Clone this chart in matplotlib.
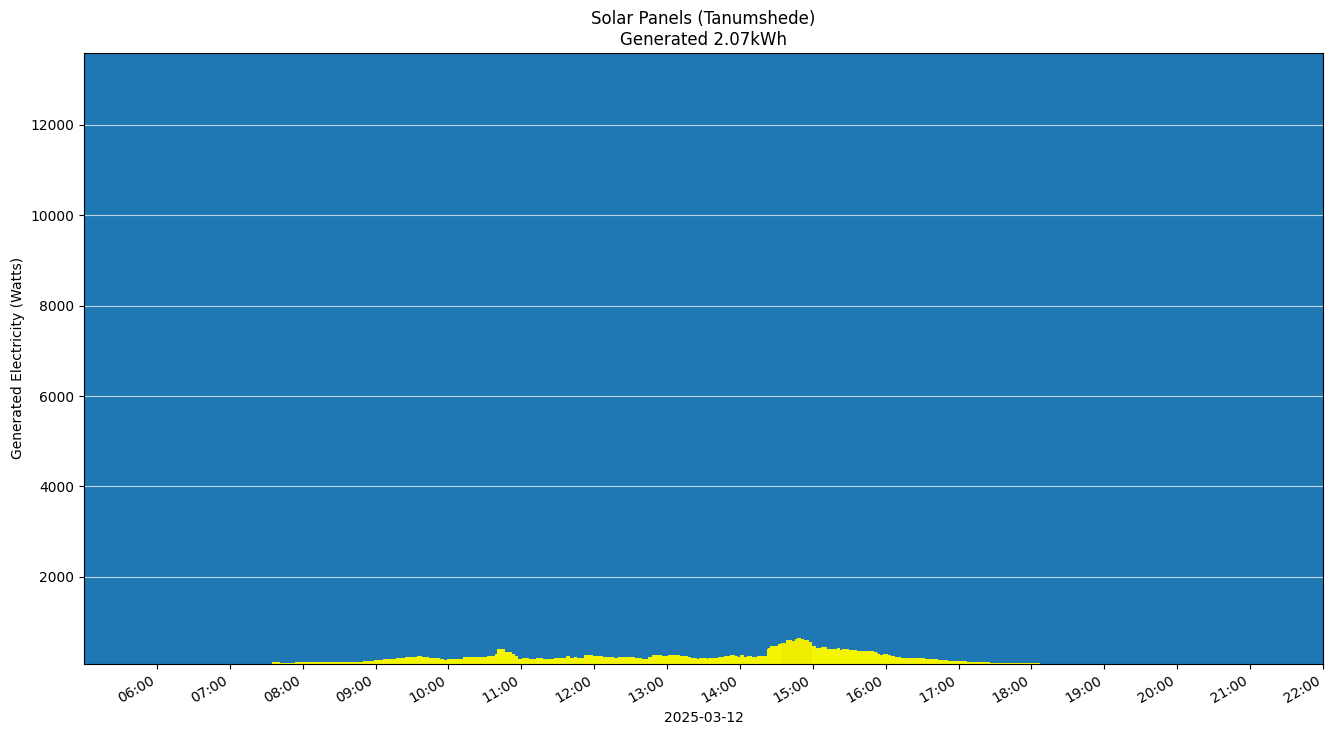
import matplotlib
matplotlib.use("Agg")
import matplotlib.pyplot as plt
import matplotlib.dates as mdates
import pandas as pd

day = "2025-03-12"

# step readings (start time of each step, watts)
times = [
    "07:35", "07:41", "07:54", "08:50", "08:59", "09:06", "09:17", "09:24", "09:34", "09:38",
    "09:44", "09:53", "09:56", "09:59", "10:12", "10:32", "10:38", "10:40", "10:47", "10:52",
    "10:55", "10:57", "11:01", "11:06", "11:12", "11:18", "11:27", "11:37", "11:40", "11:43",
    "11:46", "11:52", "11:59", "12:07", "12:16", "12:20", "12:34", "12:39", "12:44", "12:48",
    "12:56", "13:01", "13:11", "13:17", "13:20", "13:25", "13:26", "13:33", "13:34", "13:42",
    "13:47", "13:52", "13:56", "13:58", "14:00", "14:03", "14:06", "14:10", "14:14", "14:22",
    "14:23", "14:25", "14:27", "14:30", "14:31", "14:34", "14:38", "14:43", "14:45", "14:47",
    "14:50", "14:53", "14:57", "14:59", "15:03", "15:07", "15:12", "15:20", "15:22", "15:24",
    "15:30", "15:36", "15:50", "15:53", "15:54", "15:55", "15:58", "16:02", "16:04", "16:08",
    "16:13", "16:32", "16:43", "16:51", "17:07", "17:26", "18:07",
]
watts = [
    120, 95, 120, 140, 160, 185, 205, 230, 250, 230,
    205, 185, 160, 185, 230, 250, 290, 400, 330, 300,
    250, 185, 205, 185, 205, 185, 205, 250, 205, 230,
    205, 270, 250, 230, 205, 230, 205, 185, 230, 270,
    250, 270, 250, 230, 205, 185, 205, 185, 205, 230,
    250, 270, 250, 230, 270, 230, 250, 230, 250, 400,
    430, 475, 460, 475, 515, 540, 605, 580, 630, 650,
    630, 605, 560, 460, 430, 450, 400, 430, 380, 400,
    380, 360, 340, 320, 300, 270, 300, 270, 250, 230,
    205, 185, 160, 140, 120, 95, 95,
]

# slightly darker stretch of the fill
dark_start = "14:34"
dark_end = "14:59"

df = pd.DataFrame({"time": pd.to_datetime([f"{day} {t}" for t in times]), "watts": watts})

fig, ax = plt.subplots(figsize=(13.33, 7.36), dpi=100)
ax.set_facecolor("#1f77b4")

ax.fill_between(df["time"], df["watts"], 0, step="post", color="#f3f600", linewidth=0)
dk = df[(df["time"] >= pd.Timestamp(f"{day} {dark_start}")) & (df["time"] <= pd.Timestamp(f"{day} {dark_end}"))]
ax.fill_between(dk["time"], dk["watts"], 0, step="post", color="#efec00", linewidth=0)

ax.set_xlim(pd.Timestamp(f"{day} 05:00"), pd.Timestamp(f"{day} 22:00"))
ax.set_ylim(75, 13590)
ax.xaxis.set_major_locator(mdates.HourLocator(byhour=range(6, 23)))
ax.xaxis.set_major_formatter(mdates.DateFormatter("%H:%M"))
ax.set_yticks([2000, 4000, 6000, 8000, 10000, 12000])
ax.grid(axis="y", color="white", alpha=0.7, linewidth=0.8)
ax.set_axisbelow(True)

ax.set_title("Solar Panels (Tanumshede)\nGenerated 2.07kWh")
ax.set_ylabel("Generated Electricity (Watts)")
ax.set_xlabel(day)

fig.autofmt_xdate()
fig.subplots_adjust(left=0.063, right=0.9925, top=0.928, bottom=0.098)
fig.savefig("out.png", dpi=100)
